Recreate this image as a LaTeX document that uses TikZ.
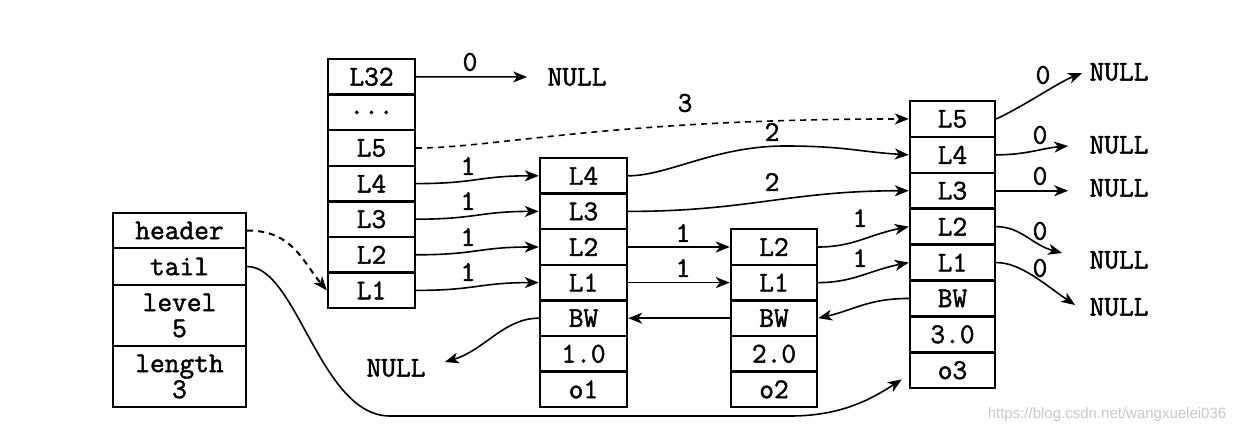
\documentclass[tikz,border=0pt]{standalone}
\usepackage{fontspec}
\newfontfamily\wmfont{Liberation Sans}
\newfontfamily\courf{Latin Modern Mono}[FakeBold=1.6]
\usetikzlibrary{arrows.meta}
\begin{document}
\begin{tikzpicture}[x=0.5pt,y=-0.5pt,
  tt/.style={font=\courf\fontsize{14.3}{13}\selectfont},
  cellbase/.style={tt,draw,line width=1.2pt,inner sep=0pt,align=center},
  cellA/.style={cellbase,minimum width=43.5pt,minimum height=17.8pt},
  cellB/.style={cellbase,minimum width=43pt,minimum height=17.8pt},
  cellC/.style={cellbase,minimum width=42.5pt,minimum height=17.95pt},
  cellL/.style={cellbase,minimum width=66.5pt},
  lbl/.style={tt,inner sep=0pt},
  nul/.style={tt,inner sep=0pt},
  arr/.style={line width=0.8pt,-{Stealth[length=7pt,width=5.5pt,inset=2pt]}},
  darr/.style={arr,dashed,dash pattern=on 3pt off 2.5pt}]
\useasboundingbox (0,0) rectangle (1241,438);

% list structure
\node[cellL,minimum height=17.5pt] (hdr) at (179.5,230.5) {header};
\node[cellL,minimum height=18.5pt] (tail) at (179.5,266.5) {tail};
\node[cellL,minimum height=30.5pt] (lev) at (179.5,315.5) {level\\5};
\node[cellL,minimum height=30.5pt] (len) at (179.5,376.5) {length\\3};

% header node
\node[cellA] (h32) at (371.5,76.8) {L32};
\node[cellA] (hdots) at (371.5,112.4) {...};
\node[cellA] (h5) at (371.5,148) {L5};
\node[cellA] (h4) at (371.5,183.6) {L4};
\node[cellA] (h3) at (371.5,219.2) {L3};
\node[cellA] (h2) at (371.5,254.8) {L2};
\node[cellA] (h1) at (371.5,290.4) {L1};

% node 1
\node[cellA] (a4) at (583.5,175.8) {L4};
\node[cellA] (a3) at (583.5,211.4) {L3};
\node[cellA] (a2) at (583.5,247) {L2};
\node[cellA] (a1) at (583.5,282.6) {L1};
\node[cellA] (abw) at (583.5,318.2) {BW};
\node[cellA] (asc) at (583.5,353.8) {1.0};
\node[cellA] (aob) at (583.5,389.4) {o1};

% node 2
\node[cellB] (b2) at (774,247) {L2};
\node[cellB] (b1) at (774,282.6) {L1};
\node[cellB] (bbw) at (774,318.2) {BW};
\node[cellB] (bsc) at (774,353.8) {2.0};
\node[cellB] (bob) at (774,389.4) {o2};

% node 3
\node[cellC] (c5) at (952.5,118.95) {L5};
\node[cellC] (c4) at (952.5,154.85) {L4};
\node[cellC] (c3) at (952.5,190.75) {L3};
\node[cellC] (c2) at (952.5,226.65) {L2};
\node[cellC] (c1) at (952.5,262.55) {L1};
\node[cellC] (cbw) at (952.5,298.45) {BW};
\node[cellC] (csc) at (952.5,334.35) {3.0};
\node[cellC] (cob) at (952.5,370.25) {o3};

% NULLs
\node[nul] (nt) at (577,77) {NULL};
\node[nul] (nl) at (396,368) {NULL};
\node[nul] (nr1) at (1119,72) {NULL};
\node[nul] (nr2) at (1119,145) {NULL};
\node[nul] (nr3) at (1119,188) {NULL};
\node[nul] (nr4) at (1119,260) {NULL};
\node[nul] (nr5) at (1119,307) {NULL};

% labels
\node[lbl] (l0t) at (470,62) {0};
\node[lbl] (l3) at (685,103) {3};
\node[lbl] (lh4) at (468,166) {1};
\node[lbl] (lh3) at (468,201) {1};
\node[lbl] (lh2) at (468,237) {1};
\node[lbl] (lh1) at (468,272) {1};
\node[lbl] (la4) at (772,132) {2};
\node[lbl] (la3) at (772,182) {2};
\node[lbl] (la2) at (683,233) {1};
\node[lbl] (la1) at (683,268) {1};
\node[lbl] (lb2) at (860,218) {1};
\node[lbl] (lb1) at (860,258) {1};
\node[lbl] (lc5) at (1043,75) {0};
\node[lbl] (lc4) at (1040,135) {0};
\node[lbl] (lc3) at (1040,176) {0};
\node[lbl] (lc2) at (1040,231) {0};
\node[lbl] (lc1) at (1040,268) {0};

% connectors
\draw[arr,shorten >=10pt] (h32.east) -- (nt.west);
\draw[darr] (h5.east) .. controls +(80,0) and +(-300,0) .. (c5.west);
\draw[arr] (h4.east) .. controls +(60,0) and +(-60,0) .. (a4.west);
\draw[arr] (h3.east) .. controls +(60,0) and +(-60,0) .. (a3.west);
\draw[arr] (h2.east) .. controls +(60,0) and +(-60,0) .. (a2.west);
\draw[arr] (h1.east) .. controls +(60,0) and +(-60,0) .. (a1.west);
\draw[arr] (a4.east) .. controls +(40,0) and +(-70,0) .. (785,146)
  .. controls +(60,0) and +(-50,-3) .. (c4.west);
\draw[arr] (a3.east) .. controls +(120,0) and +(-120,0) .. (c3.west);
\draw[arr] (a2.east) -- (b2.west);
\draw[arr] (a1.east) -- (b1.west);
\draw[arr] (b2.east) .. controls +(35,0) and +(-40,8) .. (c2.west);
\draw[arr] (b1.east) .. controls +(35,0) and +(-40,8) .. (c1.west);
\draw[arr] (bbw.west) -- (abw.east);
\draw[arr] (cbw.west) .. controls +(-40,0) and +(35,-8) .. (bbw.east);
\draw[arr] (abw.west) .. controls +(-35,0) and +(40,-12) .. ([shift={(19,-6)}]nl.east);
\draw[darr,line width=1pt] (hdr.east) .. controls +(45,0) and +(-25,-30) .. (h1.west);
\draw[arr] (tail.east) .. controls +(50,0) and (320,416) .. (390,416) -- (790,416)
  .. controls (840,416) and (870,400) .. ([shift={(-7,-10)}]cob.south west);
\draw[arr] (c5.east) .. controls +(30,-14) and +(-25,10) .. ([shift={(-7,1)}]nr1.west);
\draw[arr] (c4.east) .. controls +(30,0) and +(-25,2) .. ([shift={(-21,1)}]nr2.west);
\draw[arr] (c3.east) -- ([shift={(-21,2.75)}]nr3.west);
\draw[arr] (c2.east) .. controls +(25,0) and +(-30,-8) .. ([shift={(-27,-7)}]nr4.west);
\draw[arr] (c1.east) .. controls +(25,0) and +(-30,-20) .. ([shift={(-14,-2)}]nr5.west);

% watermark
\node[font=\wmfont\fontsize{7.5}{8}\selectfont,text=black!22,inner sep=0pt] (wm) at (1107,415) {https://blog.csdn.net/wangxuelei036};
\end{tikzpicture}
\end{document}
